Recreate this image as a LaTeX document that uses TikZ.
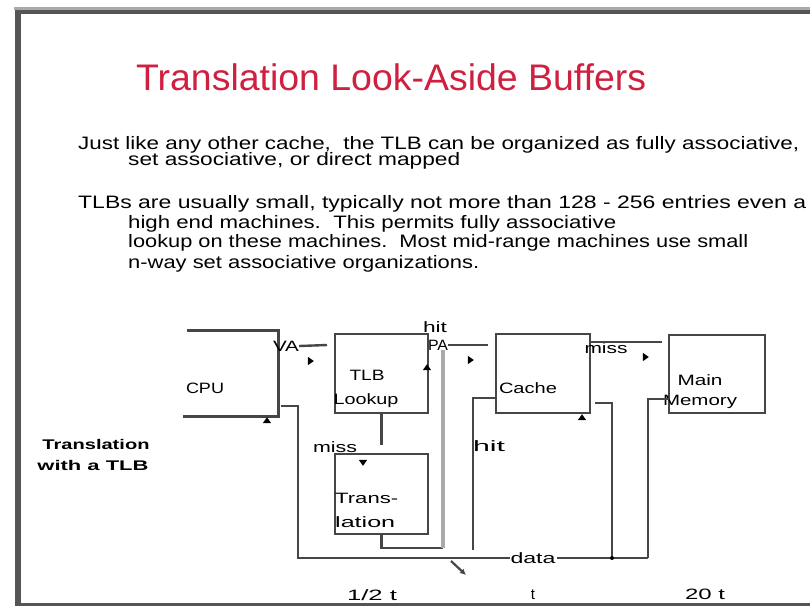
\documentclass[tikz,border=0pt]{standalone}
\usepackage{fontspec}
\setmainfont{Liberation Sans}
\usetikzlibrary{shapes.geometric,arrows.meta}
\newcommand\fitw[2]{\resizebox{#1pt}{\height}{#2}}
\definecolor{titlered}{RGB}{208,32,64}
\definecolor{framec}{RGB}{85,85,85}
\definecolor{lnc}{RGB}{70,70,70}
\definecolor{lgray}{RGB}{170,170,170}
\begin{document}
\begin{tikzpicture}[x=1pt,y=-1pt,
  txt/.style={inner sep=0, anchor=base west, font=\fontsize{18}{18}\selectfont},
  lbl/.style={inner sep=0pt, font=\fontsize{15}{15}\selectfont},
  wire/.style={draw=lnc, line width=2.4pt},
  boxe/.style={draw=lnc, line width=2.8pt, fill=none},
  blk/.style={inner sep=0, draw=none},
  ahd/.style={isosceles triangle, fill=black, inner sep=0, minimum width=6pt, minimum height=6pt, isosceles triangle apex angle=70},
 ]
\useasboundingbox (0,0) rectangle (810,606);
\fill[white] (0,0) rectangle (810,606);
% frame
\draw[lgray, line width=3pt] (14,8) -- (810,8);
\draw[framec, line width=3.5pt] (15,12) -- (810,12);
\draw[framec, line width=6pt] (18,10) -- (18,606);
\draw[framec, line width=3pt] (15,604.5) -- (810,604.5);

% title and text
\node[inner sep=0, anchor=base west, text=titlered, font=\fontsize{37}{37}\selectfont] (title) at (136,90) {\fitw{510}{Translation Look-Aside Buffers}};
\node[txt] (p1a) at (78,149) {\fitw{721}{Just like any other cache,\ \ the TLB can be organized as fully associative,}};
\node[txt] (p1b) at (128,165) {\fitw{332}{set associative, or direct mapped}};
\node[txt] (p2a) at (78,208) {\fitw{728}{TLBs are usually small, typically not more than 128 - 256 entries even a}};
\node[txt] (p2b) at (128,228) {\fitw{488}{high end machines.\ \ This permits fully associative}};
\node[txt] (p2c) at (128,247) {\fitw{620}{lookup on these machines.\ \ Most mid-range machines use small}};
\node[txt] (p2d) at (128,268) {\fitw{351}{n-way set associative organizations.}};

% boxes
\node[blk, minimum width=95pt, minimum height=85pt] (cpu) at (230.5,373.5) {};
\draw[boxe] ([xshift=4pt]cpu.north west) -- (cpu.north east) -- (cpu.south east) -- (cpu.south west);
\node[boxe, minimum width=93pt, minimum height=79pt] (tlb) at (381.5,373.5) {};
\node[boxe, minimum width=93pt, minimum height=80pt] (trans) at (381.5,494) {};
\node[boxe, minimum width=94pt, minimum height=79pt] (cache) at (543,373.5) {};
\node[boxe, minimum width=96pt, minimum height=78pt] (mm) at (717,374) {};

% labels
\node[lbl] (cpuL) at (205,388) {\fitw{38}{CPU}};
\node[lbl] (va) at (286,346) {\fitw{26}{VA}};
\node[lbl] (hit1) at (435,327) {\fitw{24}{hit}};
\node[lbl] (pa) at (438,345) {\fitw{20}{PA}};
\node[lbl] (tlbL1) at (367,375) {\fitw{35}{TLB}};
\node[lbl] (tlbL2) at (366,401) {\fitw{65}{Lookup}};
\node[lbl] (miss1) at (335,447) {\fitw{44}{miss}};
\node[lbl, anchor=west] (trL1) at (335,498) {\fitw{63}{Trans-}};
\node[lbl, anchor=west] (trL2) at (335,522) {\fitw{60}{lation}};
\node[lbl] (cacheL) at (528,388) {\fitw{58}{Cache}};
\node[lbl] (hit2) at (489,446) {\fitw{32}{hit}};
\node[lbl] (miss2) at (606,348) {\fitw{43}{miss}};
\node[lbl] (mmL1) at (700,380) {\fitw{45}{Main}};
\node[lbl] (mmL2) at (700,402) {\fitw{74}{Memory}};
\node[lbl, font=\bfseries\fontsize{14}{14}\selectfont] (side1) at (96,444) {\fitw{107}{Translation}};
\node[lbl, font=\bfseries\fontsize{14}{14}\selectfont] (side2) at (93,465) {\fitw{111}{with a TLB}};
\node[lbl] (t1) at (372,595) {\fitw{50}{1/2 t}};
\node[lbl] (t2) at (533,595) {t};
\node[lbl] (t3) at (705,594) {\fitw{40}{20 t}};

% junction coordinates
\coordinate (cpuout) at (281,406);
\coordinate (bl) at (298,558);
\coordinate (dj) at (612,558);
\coordinate (br) at (648,558);
\coordinate (mmout) at (669,399);
\coordinate (cout) at (595,403);
\coordinate (hitin) at (496,398);
\coordinate (hitend) at (473,550);
\coordinate (cmiss) at (590,342);
\coordinate (mmin) at (662,342);
\coordinate (cachein) at (488,345);
\coordinate (tlbin) at (327,345);
\coordinate (ret) at (443,548);
\coordinate (dg1) at (451,561);
\coordinate (dg2) at (466,575);

% connectors
\draw[wire] (va.east) -- (tlbin);
\draw[wire] (pa.east) -- (cachein);
\draw[wire] (cpuout) -| (bl) -- (br);
\draw[wire] (mmout) -| (br);
\draw[wire] (cout) -| (dj);
\fill[black] (dj) circle (2pt);
\draw[wire] (hitin) -| (hitend);
\draw[wire] (cmiss) -- (mmin);
\draw[wire, shorten >=8pt] (tlb.south) -- (trans.north);
\draw[wire] (trans.south) |- (ret);
\draw[lgray, line width=4pt] (ret) -- (pa.south -| ret);
\draw[lnc, line width=2.2pt, -{Latex[length=6pt,width=6pt]}] (dg1) -- (dg2);
\node[lbl, fill=white, inner sep=1pt] (data) at (533,558) {\fitw{45}{data}};

% arrowheads
\node[ahd] (a1) at (310,361) {};
\node[ahd, shape border rotate=90] (a2) at (267,421) {};
\node[ahd] (a3) at (470,360) {};
\node[ahd, shape border rotate=90] (a4) at (427,368) {};
\node[ahd, shape border rotate=270] (a5) at (363,462) {};
\node[ahd, shape border rotate=90] (a6) at (582,418) {};
\node[ahd] (a7) at (645,357) {};
\end{tikzpicture}
\end{document}
